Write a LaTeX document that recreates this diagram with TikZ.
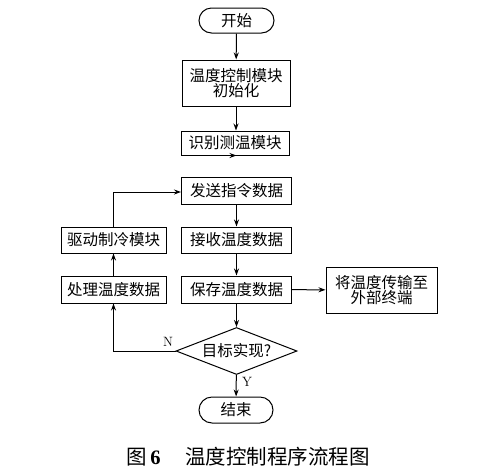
\documentclass[tikz,border=0pt]{standalone}
\usepackage{fontspec}
\newfontfamily\cjk{Noto Sans CJK SC}
\usetikzlibrary{shapes.misc,shapes.geometric,arrows.meta}
\begin{document}
\begin{tikzpicture}[x=1pt,y=-1pt,
  every node/.style={font=\cjk\fontsize{15.5}{18}\selectfont},
  procbox/.style={draw,line width=1pt,minimum height=26pt,inner sep=0pt,align=center},
  termbox/.style={draw,line width=1pt,rounded rectangle,minimum width=75pt,minimum height=25pt,inner sep=0pt},
  decbox/.style={draw,line width=1pt,diamond,aspect=2.6,minimum width=121pt,minimum height=47pt,inner sep=0pt},
  conn/.style={line width=1pt,-{Stealth[length=7pt,width=5pt]}},
  lbl/.style={font=\fontsize{13.5}{15}\selectfont}]
\useasboundingbox (0,0) rectangle (477,475);
\node[termbox] (start) at (236.5,20.5) {开始};
\node[procbox,minimum width=108pt,minimum height=46pt] (init) at (236,83) {温度控制模块\\[-3pt]初始化};
\node[procbox,minimum width=108pt,minimum height=24pt] (ident) at (235,143) {识别测温模块};
\node[procbox,minimum width=110pt,minimum height=27pt] (send) at (236.5,190.5) {发送指令数据};
\node[procbox,minimum width=110pt] (recv) at (236.5,240) {接收温度数据};
\node[procbox,minimum width=110pt,minimum height=27pt] (save) at (236.5,289.5) {保存温度数据};
\node[procbox,minimum width=105pt] (drive) at (113.5,240) {驱动制冷模块};
\node[procbox,minimum width=105pt,minimum height=27pt] (proc) at (113.5,289.5) {处理温度数据};
\node[procbox,minimum width=111pt,minimum height=46pt] (out) at (381.5,290) {将温度传输至\\[-3pt]外部终端};
\node[decbox] (dec) at (236.5,351) {目标实现?};
\node[termbox,minimum width=74pt,minimum height=26pt] (end) at (236,410) {结束};
\node[lbl] (nl) at (168,342) {N};
\node[lbl] (yl) at (247,382) {Y};
\node[font=\cjk\fontsize{20.5}{23}\selectfont] (cap) at (248,457) {图\,\textbf{\fontspec{Liberation Serif}6}\hspace{1.2em}温度控制程序流程图};
\draw[conn] (start) -- (init);
\draw[conn] (init) -- (init.south |- ident.north);
\draw[conn] (ident) -- (ident.south -| send.north);
\draw[conn] (send) -- (recv);
\draw[conn] (recv) -- (save);
\draw[conn] (save) -- (dec);
\draw[conn] (dec) -- (end);
\draw[conn] (save) -- (out);
\draw[conn] (dec.west) -| (proc.south);
\draw[conn] (proc) -- (drive);
\draw[conn] (drive.north) |- (send.west |- 0,192) ;
\end{tikzpicture}
\end{document}
